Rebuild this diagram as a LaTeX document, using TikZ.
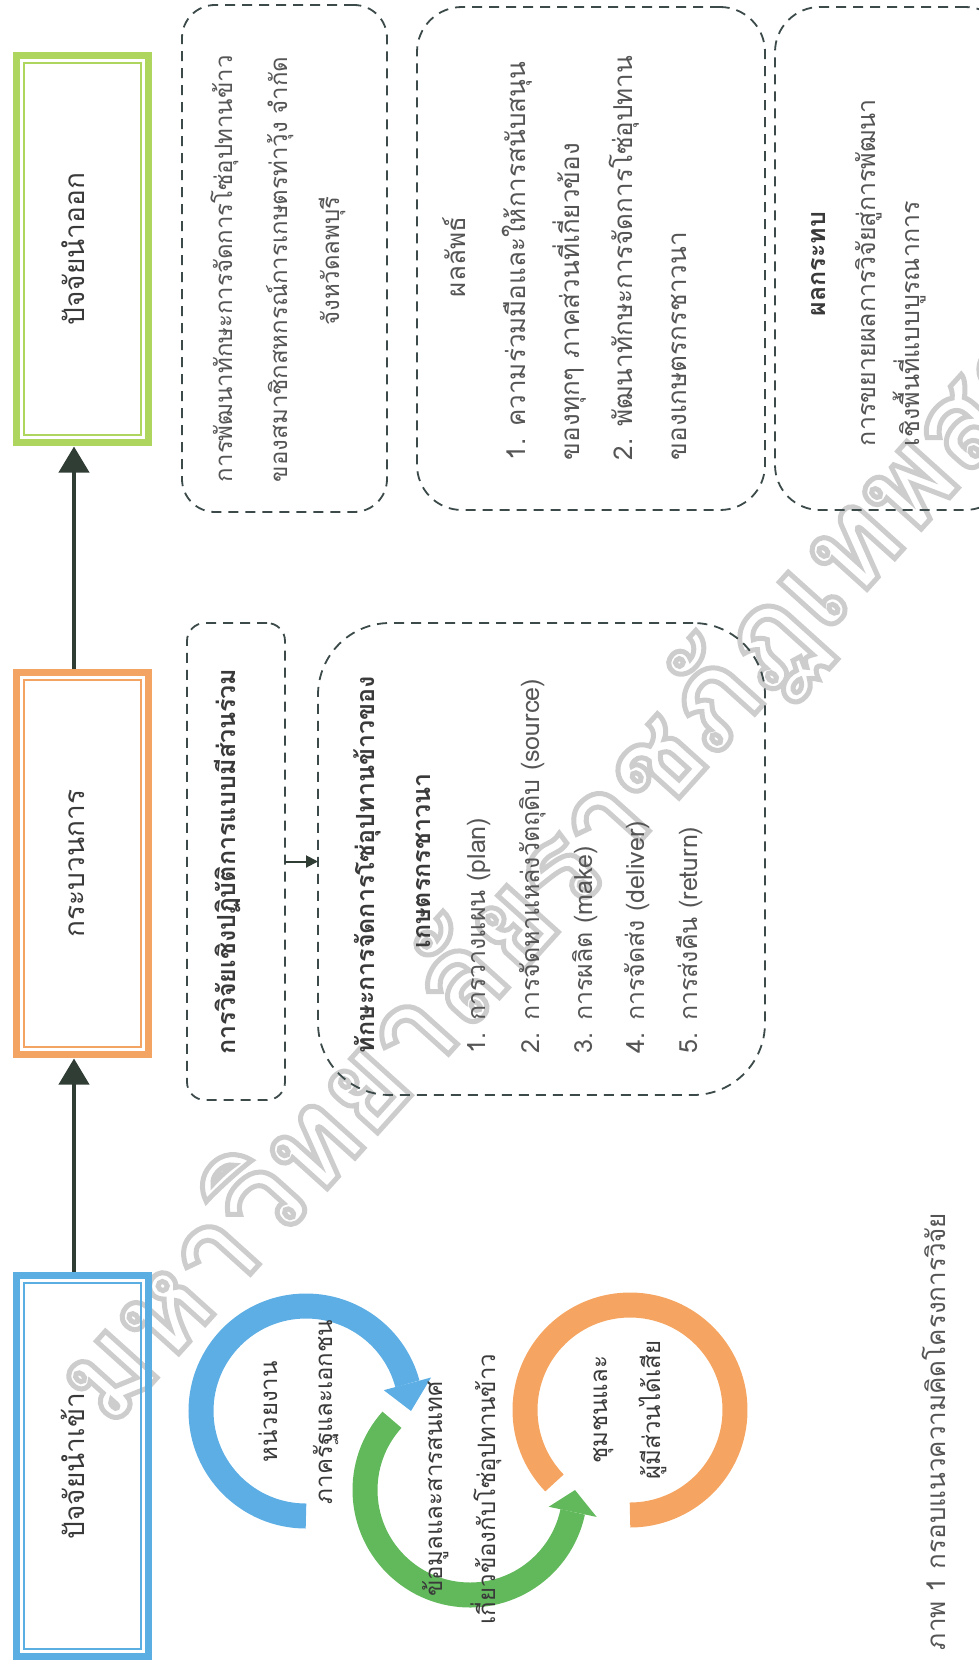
\documentclass[tikz,border=0pt]{standalone}
\usepackage{fontspec}
\newfontfamily\thai[Script=Thai]{Loma}
\usetikzlibrary{arrows.meta}
\definecolor{cblue}{HTML}{5AAEE2}
\definecolor{corange}{HTML}{F4A462}
\definecolor{cgreen}{HTML}{AED65E}
\definecolor{rblue}{HTML}{5CAEE5}
\definecolor{rgreen}{HTML}{62B95C}
\definecolor{rorange}{HTML}{F5A561}
\definecolor{dline}{HTML}{3C4A4A}
\definecolor{arr}{HTML}{2F3D35}
\definecolor{txt}{HTML}{3A3A3A}
\definecolor{ltxt}{HTML}{555555}
\definecolor{wm}{HTML}{CDCDCD}
\begin{document}
\begin{tikzpicture}[x=1pt,y=1pt, font=\thai,
  every node/.style={inner sep=0pt, outer sep=0pt},
  frame/.style={draw, line width=7pt, minimum width=132pt},
  dbox/.style={draw=dline, line width=1.8pt, dash pattern=on 10pt off 7pt},
  tl/.style={rotate=90, anchor=mid west},
  tc/.style={rotate=90, anchor=mid},
  ttl/.style={text=txt, font=\thai\fontsize{28}{28}\selectfont},
  body/.style={text=ltxt, font=\thai\fontsize{24}{24}\selectfont},
  bodyb/.style={text=ltxt, font=\thai\fontsize{26}{26}\selectfont},
  bodyc/.style={text=ltxt, font=\thai\fontsize{25}{25}\selectfont},
  bbody/.style={text=txt, font=\thai\bfseries\fontsize{25}{25}\selectfont},
  bigarr/.style={draw=arr, line width=4pt, -{Triangle[length=26pt,width=30pt]}},
  smarr/.style={draw=arr, line width=2pt, -{Triangle[length=12pt,width=12pt]}},
  ring/.style={line width=25pt, line cap=butt},
]
\useasboundingbox (0,0) rectangle (979,-1670);

% watermark (outlined letters)
\begin{scope}
\clip (0,0) rectangle (979,-1670);
\node[rotate=48, anchor=base west, text=wm, font=\thai\bfseries\fontsize{125}{125}\selectfont] (wmark) at (110,-1430) {\special{pdf:literal direct 1 Tr 5 w}มหาวิทยาลัยราชภัฏเทพสตรี\special{pdf:literal direct 0 Tr 1 w}};
\end{scope}

% main boxes
\node[frame, draw=cgreen, minimum height=387pt] (outb) at (82.5,-249) {};
\node[frame, draw=corange, minimum height=382pt] (proc) at (82.5,-863.5) {};
\node[frame, draw=cblue, minimum height=381pt] (inb) at (82.5,-1466) {};
\foreach \n/\c in {outb/cgreen, proc/corange, inb/cblue}
  \draw[\c, line width=2pt] ([shift={(7.5,-7.5)}]\n.north west) rectangle ([shift={(-7.5,7.5)}]\n.south east);
\node[tc, ttl] (outl) at (outb.center) {ปัจจัยนำออก};
\node[tc, ttl] (procl) at (proc.center) {กระบวนการ};
\node[tc, ttl] (inl) at (inb.center) {ปัจจัยนำเข้า};

\draw[bigarr, shorten >=4pt] ([shift={(-8.5,3.5)}]proc.north) -- ([xshift=-8.5pt]outb.south);
\draw[bigarr, shorten >=4pt] ([shift={(-8.5,3.5)}]inb.north) -- ([xshift=-8.5pt]proc.south);

% dashed boxes
\node[dbox, rounded corners=33pt, minimum width=205pt, minimum height=507pt] (boxa) at (284.5,-258.5) {};
\node[dbox, rounded corners=45pt, minimum width=348pt, minimum height=503pt] (boxb) at (591,-258.5) {};
\begin{scope}
\clip (0,0) rectangle (979,-1670);
\node[dbox, rounded corners=45pt, minimum width=235pt, minimum height=503pt] (boxc) at (892.5,-258.5) {};
\end{scope}
\node[dbox, rounded corners=18pt, minimum width=98pt, minimum height=477pt] (boxd) at (236,-861.5) {};
\node[dbox, rounded corners=72pt, minimum width=447pt, minimum height=472pt] (boxe) at (541.5,-859) {};
\draw[smarr] (boxd.east) -- (boxd.east -| boxe.west);

% box A
\node[tl, body] (a1) at (230,-482) {การพัฒนาทักษะการจัดการโซ่อุปทานข้าว};
\node[tl, body] (a2) at (285,-482) {ของสมาชิกสหกรณ์การเกษตรท่าวุ้ง จำกัด};
\node[tc, body] (a3) at (337,-261) {จังหวัดลพบุรี};
% box B
\node[tc, bodyb] (b0) at (463,-257) {ผลลัพธ์};
\node[tl, bodyb] (b1) at (523,-460) {1. ความร่วมมือและให้การสนับสนุน};
\node[tl, bodyb] (b2) at (577,-460) {ของทุกๆ ภาคส่วนที่เกี่ยวข้อง};
\node[tl, bodyb] (b3) at (630,-460) {2. พัฒนาทักษะการจัดการโซ่อุปทาน};
\node[tl, bodyb] (b4) at (684,-460) {ของเกษตรกรชาวนา};
% box C
\node[tc, bbody] (c0) at (823,-264) {ผลกระทบ};
\node[tl, bodyc] (c1) at (873,-446) {การขยายผลการวิจัยสู่การพัฒนา};
\node[tl, bodyc] (c2) at (917,-446) {เชิงพื้นที่แบบบูรณาการ};
% box D
\node[tc, bbody] (d0) at (233,-861.5) {การวิจัยเชิงปฏิบัติการแบบมีส่วนร่วม};
% box E
\node[tl, bbody] (e0) at (372,-1053) {ทักษะการจัดการโซ่อุปทานข้าวของ};
\node[tc, bbody] (e1) at (428,-861) {เกษตรกรชาวนา};
\node[tl, bodyc] (e2) at (483,-1053) {1. การวางแผน (plan)};
\node[tl, bodyc] (e3) at (537,-1053) {2. การจัดหาแหล่งวัตถุดิบ (source)};
\node[tl, bodyc] (e4) at (590,-1053) {3. การผลิต (make)};
\node[tl, bodyc] (e5) at (642,-1053) {4. การจัดส่ง (deliver)};
\node[tl, bodyc] (e6) at (695,-1053) {5. การส่งคืน (return)};

% cycle rings
\coordinate (bc) at (306,-1411);
\coordinate (gc) at (470,-1490);
\coordinate (oc) at (630,-1410);
\draw[ring, rorange] ([shift={(224:105)}]oc) arc[start angle=224, end angle=-90, radius=105];
\draw[ring, rgreen] ([shift={(138:105)}]gc) arc[start angle=138, end angle=348, radius=105];
\fill[rgreen] ([shift={(348:80.5)}]gc) -- ([shift={(348:129.5)}]gc) -- ([shift={(360:105)}]gc) -- cycle;
\draw[ring, rblue] ([shift={(-90:105)}]bc) arc[start angle=-90, end angle=-345, radius=105];
\fill[rblue] ([shift={(-345:80.5)}]bc) -- ([shift={(-345:129.5)}]bc) -- ([shift={(-360:105)}]bc) -- cycle;

\node[tc, body, text=txt] (bt1) at (275,-1412) {หน่วยงาน};
\node[tc, body, text=txt] (bt2) at (330,-1412) {ภาครัฐและเอกชน};
\node[tc, body, text=txt] (gt1) at (440,-1489) {ข้อมูลและสารสนเทศ};
\node[tc, body, text=txt] (gt2) at (493,-1489) {เกี่ยวข้องกับโซ่อุปทานข้าว};
\node[tc, body, text=txt] (ot1) at (605,-1410) {ชุมชนและ};
\node[tc, body, text=txt] (ot2) at (658,-1410) {ผู้มีส่วนได้เสีย};

% caption
\node[tl, bodyb] (cap) at (943,-1650) {ภาพ 1 กรอบแนวความคิดโครงการวิจัย};
\end{tikzpicture}
\end{document}
